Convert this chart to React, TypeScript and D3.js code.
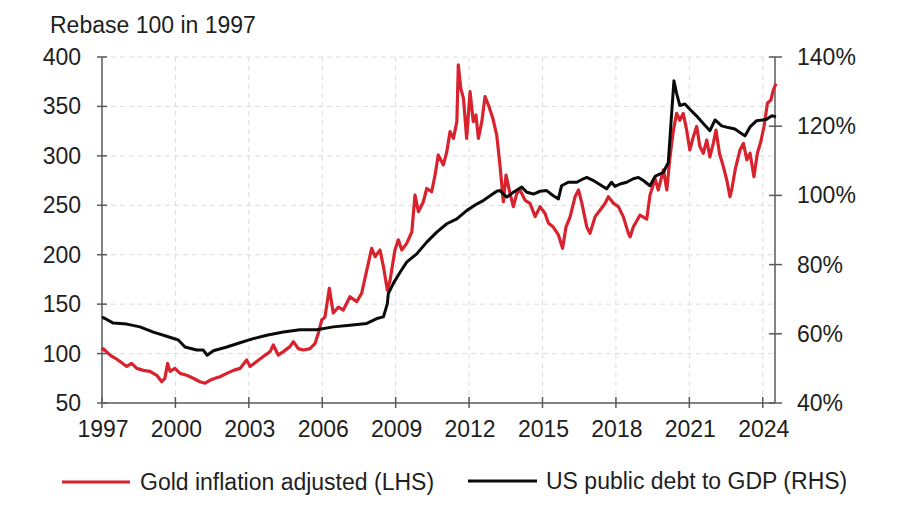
import React from "react";
import * as d3 from "d3";

const title = "Rebase 100 in 1997";
const xTicks = [1997, 2000, 2003, 2006, 2009, 2012, 2015, 2018, 2021, 2024];
const leftTicks = [50, 100, 150, 200, 250, 300, 350, 400];
const rightTicks = [40, 60, 80, 100, 120, 140];
const goldLabel = "Gold inflation adjusted (LHS)";
const debtLabel = "US public debt to GDP (RHS)";

const goldDates = [
  1997.0, 1997.05, 1997.33, 1997.53, 1997.74, 1998.01, 1998.21, 1998.42, 1998.69, 1998.96,
  1999.24, 1999.44, 1999.57, 1999.68, 1999.78, 1999.98, 2000.19, 2000.46, 2000.73, 2001.0,
  2001.21, 2001.41, 2001.62, 2001.82, 2002.1, 2002.37, 2002.64, 2002.91, 2003.05, 2003.32,
  2003.59, 2003.87, 2004.0, 2004.2, 2004.41, 2004.68, 2004.82, 2005.02, 2005.23, 2005.5,
  2005.7, 2005.84, 2005.98, 2006.11, 2006.29, 2006.45, 2006.66, 2006.86, 2007.13, 2007.41,
  2007.61, 2007.82, 2008.02, 2008.16, 2008.36, 2008.5, 2008.66, 2008.77, 2008.97, 2009.11,
  2009.25, 2009.45, 2009.66, 2009.79, 2009.93, 2010.13, 2010.27, 2010.47, 2010.61, 2010.74,
  2010.95, 2011.09, 2011.22, 2011.36, 2011.5, 2011.56, 2011.66, 2011.77, 2011.9, 2012.04,
  2012.17, 2012.28, 2012.38, 2012.52, 2012.65, 2012.79, 2012.97, 2013.13, 2013.26, 2013.4,
  2013.51, 2013.67, 2013.81, 2013.95, 2014.08, 2014.29, 2014.49, 2014.7, 2014.9, 2015.1,
  2015.24, 2015.44, 2015.65, 2015.82, 2015.96, 2016.13, 2016.33, 2016.47, 2016.61, 2016.81,
  2016.94, 2017.15, 2017.35, 2017.56, 2017.69, 2017.9, 2018.1, 2018.3, 2018.51, 2018.58,
  2018.71, 2018.98, 2019.26, 2019.39, 2019.6, 2019.73, 2019.94, 2020.08, 2020.21, 2020.35,
  2020.48, 2020.61, 2020.75, 2020.89, 2021.02, 2021.16, 2021.3, 2021.43, 2021.57, 2021.71,
  2021.84, 2021.98, 2022.09, 2022.23, 2022.39, 2022.53, 2022.66, 2022.73, 2022.87, 2023.07,
  2023.21, 2023.35, 2023.48, 2023.64, 2023.78, 2023.92, 2024.05, 2024.19, 2024.33, 2024.43,
  2024.54,
];
const goldValues = [
  103, 105, 98.5, 95.5, 92, 87, 90, 85, 83, 82,
  78, 71.5, 75, 90, 82, 85, 80, 78, 75, 71.5,
  70, 73, 75, 76.6, 80, 83, 85, 93.5, 87, 92,
  97, 102, 108.7, 98.5, 102, 107, 112, 105, 103.6, 105,
  110, 120.5, 134, 137, 166, 141, 147, 144, 157.5, 152.5,
  161, 184.5, 206.5, 198, 204.8, 188, 164, 174, 204.8, 215,
  204.8, 211.5, 223, 260.4, 243.5, 253.6, 267, 263.7, 280.6, 300.9,
  290.8, 304.2, 324.5, 317.7, 334.6, 392, 368.3, 358.2, 317.7, 365,
  334.6, 341.3, 317.7, 334.6, 359.9, 351.4, 338, 321, 290.8, 253.6,
  280.6, 262, 248.6, 262, 265.5, 255, 252, 238.5, 248.6, 242,
  232, 228, 220, 206.5, 228, 238.5, 258.7, 265.5, 252, 228,
  221.6, 238.5, 245, 252, 258.7, 252, 248.6, 238.5, 221.6, 218,
  228, 240, 236, 260, 277, 265.5, 285.7, 265.5, 299, 326,
  343, 336, 343, 326, 306, 319, 329.7, 309.5, 302.6, 316,
  299, 312.7, 326, 302.6, 289, 275.6, 258.7, 265.5, 285.7, 306,
  312.7, 296, 302.6, 279, 302.6, 314.3, 329.7, 353.2, 356.5, 366.6,
  373,
];

const debtDates = [
  1997.0, 1997.05, 1997.46, 1998.01, 1998.55, 1999.1, 1999.64, 2000.12, 2000.39, 2000.87,
  2001.14, 2001.3, 2001.55, 2002.1, 2002.64, 2003.18, 2003.73, 2004.41, 2005.09, 2005.77,
  2006.45, 2007.13, 2007.82, 2008.23, 2008.5, 2008.66, 2008.7, 2008.9, 2009.18, 2009.45,
  2009.86, 2010.27, 2010.68, 2011.09, 2011.5, 2011.9, 2012.31, 2012.58, 2012.86, 2013.13,
  2013.26, 2013.54, 2013.81, 2014.15, 2014.36, 2014.63, 2014.9, 2015.17, 2015.44, 2015.65,
  2015.78, 2016.05, 2016.4, 2016.67, 2016.81, 2017.08, 2017.42, 2017.62, 2017.82, 2017.96,
  2018.17, 2018.44, 2018.71, 2018.92, 2019.12, 2019.39, 2019.6, 2019.94, 2020.14, 2020.25,
  2020.37, 2020.48, 2020.61, 2020.82, 2021.02, 2021.29, 2021.57, 2021.84, 2022.05, 2022.32,
  2022.59, 2022.86, 2023.27, 2023.48, 2023.75, 2024.16, 2024.37, 2024.54,
];
const debtValues = [
  64.5, 64.7, 63.1, 62.8, 62, 60.5, 59.3, 58.2, 56.2, 55.3,
  55.3, 53.8, 55.1, 56.2, 57.4, 58.6, 59.6, 60.5, 61.2, 61.2,
  62, 62.5, 63, 64.4, 64.9, 68.7, 71.6, 74.5, 77.8, 80.7,
  83.1, 86.5, 89.4, 91.8, 93.2, 95.6, 97.5, 98.5, 99.9, 101.2,
  101.4, 99.5, 100.9, 102.4, 100.9, 100.4, 101.2, 101.4, 99.9, 99,
  102.8, 103.8, 103.8, 104.8, 105.2, 104.3, 102.8, 101.9, 103.8, 102.6,
  103.3, 103.8, 104.8, 105.2, 104.3, 102.8, 105.5, 106.7, 109.5, 121,
  133.1, 129.5, 126, 126.4, 124.9, 123, 120.8, 118.7, 121.8, 120.1,
  119.6, 119.2, 117.2, 119.8, 121.6, 122, 123, 122.7,
];

const W = 900;
const H = 510;
const FONT = "'Liberation Sans', Arial, sans-serif";

export default function App() {
  const x = d3.scaleLinear().domain([1997, 2024.5]).range([102, 775]);
  const yL = d3.scaleLinear().domain([50, 400]).range([403, 57]);
  const yR = d3.scaleLinear().domain([40, 140]).range([403, 57]);

  const goldLine = d3
    .line<number>()
    .x((_, i) => x(goldDates[i]))
    .y((d) => yL(d));
  const debtLine = d3
    .line<number>()
    .x((_, i) => x(debtDates[i]))
    .y((d) => yR(d));

  const axisColor = "#5a5a5a";
  const gridColor = "#dcdcdc";
  const textColor = "#1e1e1e";
  const red = "#d8232f";
  const [x0, x1] = x.range();
  const [yb, yt] = yL.range();

  return (
    <svg
      width={W}
      height={H}
      style={{ position: "absolute", left: 0, top: 0, background: "#fff" }}
      fontFamily={FONT}
    >
      <rect width={W} height={H} fill="#fff" />
      {/* grid */}
      {xTicks.slice(1).map((t) => (
        <line key={"gx" + t} x1={x(t)} x2={x(t)} y1={yt} y2={yb} stroke={gridColor} strokeWidth={1} strokeDasharray="5,4" />
      ))}
      {leftTicks.slice(1).map((t) => (
        <line key={"gy" + t} x1={x0} x2={x1} y1={yL(t)} y2={yL(t)} stroke={gridColor} strokeWidth={1} strokeDasharray="5,4" />
      ))}

      {/* axes */}
      <line x1={x0} x2={x0} y1={yt} y2={yb} stroke={axisColor} strokeWidth={1.5} />
      <line x1={x1} x2={x1} y1={yt} y2={yb} stroke={axisColor} strokeWidth={1.5} />
      <line x1={x0} x2={x1} y1={yb} y2={yb} stroke={axisColor} strokeWidth={1.5} />
      {leftTicks.map((t) => (
        <g key={"lt" + t}>
          <line x1={x0 - 5} x2={x0 + 5} y1={yL(t)} y2={yL(t)} stroke={axisColor} strokeWidth={1.5} />
          <text x={81} y={yL(t)} dy="0.35em" textAnchor="end" fontSize={23} fill={textColor}>
            {t}
          </text>
        </g>
      ))}
      {rightTicks.map((t) => (
        <g key={"rt" + t}>
          <line x1={x1 - 6} x2={x1 + 7} y1={yR(t)} y2={yR(t)} stroke={axisColor} strokeWidth={1.5} />
          <text x={797} y={yR(t)} dy="0.35em" textAnchor="start" fontSize={23} fill={textColor}>
            {t}%
          </text>
        </g>
      ))}
      {xTicks.map((t) => (
        <g key={"xt" + t}>
          <line x1={x(t)} x2={x(t)} y1={yb - 6} y2={yb + 5} stroke={axisColor} strokeWidth={1.5} />
          <text x={x(t) + 1} y={437} textAnchor="middle" fontSize={23} fill={textColor}>
            {t}
          </text>
        </g>
      ))}

      {/* series */}
      <path d={goldLine(goldValues) || ""} fill="none" stroke={red} strokeWidth={3.2} strokeLinejoin="round" />
      <path d={debtLine(debtValues) || ""} fill="none" stroke="#0a0a0a" strokeWidth={3} strokeLinejoin="round" />

      {/* title */}
      <text x={50} y={33} fontSize={23} fill={textColor}>
        {title}
      </text>

      {/* legend */}
      <line x1={62} x2={130} y1={482} y2={482} stroke={red} strokeWidth={3} />
      <text x={140} y={482} dy="0.35em" fontSize={23} fill={textColor}>
        {goldLabel}
      </text>
      <line x1={468} x2={537} y1={481} y2={481} stroke="#0a0a0a" strokeWidth={3} />
      <text x={546} y={481} dy="0.35em" fontSize={23} fill={textColor}>
        {debtLabel}
      </text>
    </svg>
  );
}
